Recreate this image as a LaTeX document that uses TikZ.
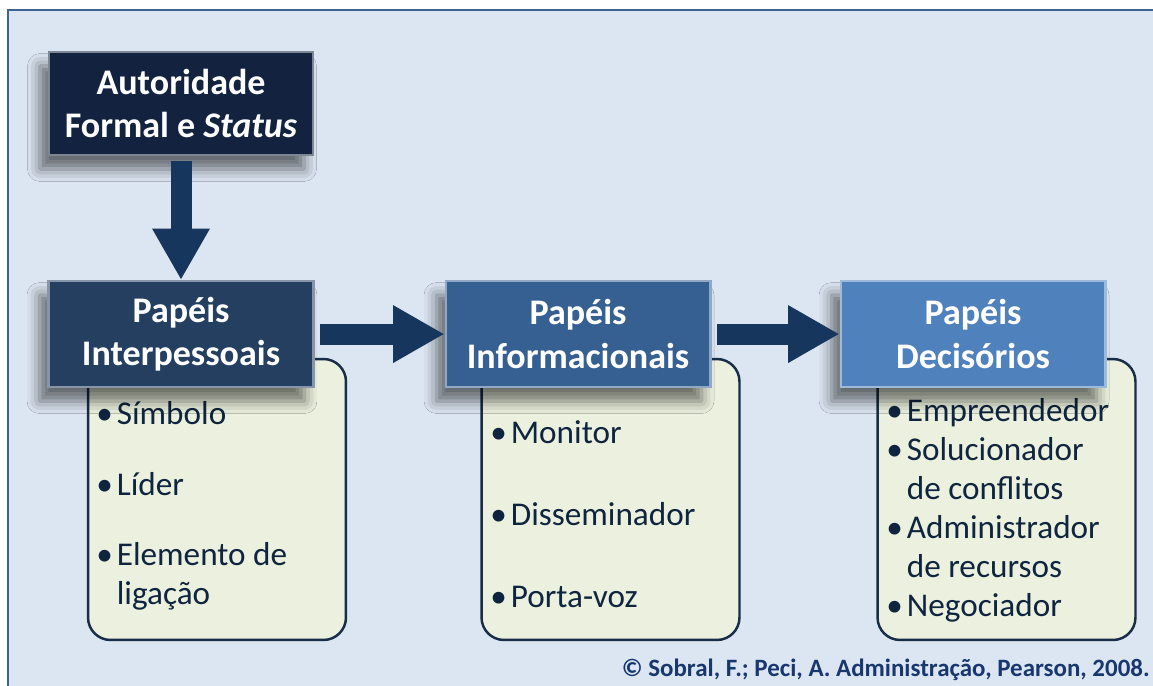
\documentclass[tikz,border=0pt]{standalone}
\usepackage{fontspec}
\setmainfont{Carlito}
\usetikzlibrary{positioning,arrows.meta,shadows.blur}
\definecolor{bgblue}{RGB}{220,230,242}
\definecolor{frameblue}{RGB}{64,100,145}
\definecolor{authfill}{RGB}{19,35,63}
\definecolor{interfill}{RGB}{36,63,96}
\definecolor{infofill}{RGB}{54,96,146}
\definecolor{decfill}{RGB}{79,129,189}
\definecolor{arrowblue}{RGB}{23,54,93}
\definecolor{listfill}{RGB}{235,241,222}
\definecolor{listline}{RGB}{24,45,72}
\definecolor{listtext}{RGB}{15,36,62}
\definecolor{citeblue}{RGB}{23,55,110}
\tikzset{
  role/.style={draw=#1!55!white, line width=1.2pt, fill=#1, text=white,
    font=\fontsize{20.5}{24.8}\selectfont\bfseries, align=center,
    minimum width=5.3cm, minimum height=2.12cm, inner sep=1pt,
    blur shadow={shadow xshift=-0.18cm, shadow yshift=-0.28cm, shadow blur radius=0.25cm, shadow opacity=55}},
  rolelist/.style={draw=listline, line width=1.4pt, fill=listfill, rounded corners=0.45cm,
    minimum width=5.16cm, minimum height=5.62cm},
  listitems/.style={text=listtext, font=\fontsize{18.9}{22.2}\selectfont, align=flush left,
    text width=4.9cm, inner sep=0pt, anchor=base west},
  bigarrow/.style={draw=arrowblue, line width=0.42cm, shorten <=3pt,
    -{Triangle[width=1.08cm, length=1.03cm]}},
  cite/.style={text=citeblue, font=\fontsize{14.2}{17}\selectfont\bfseries, anchor=base east, inner sep=0pt}
}
\newcommand{\itm}{\makebox[0.41cm][l]{\textbullet}}
\newcommand{\cnt}{\hspace*{0.41cm}}

\begin{document}
\begin{tikzpicture}[x=0.02cm, y=-0.02cm]
    \useasboundingbox (0,0) rectangle (1153,686);
    % background frame
    \draw[fill=bgblue, draw=frameblue, line width=1.5pt] (8,10) rectangle (1170,700);

    % lists behind the role boxes
    \node[rolelist] (list1) at (217,499.5) {};
    \node[rolelist] (list2) at (610.5,499.5) {};
    \node[rolelist] (list3) at (1006.5,499.5) {};

    \node[listitems] (items1) at (96,424) {\itm Símbolo\\[18.7pt]
        \itm Líder\\[17.6pt]
        \itm Elemento de\\
        \cnt ligação};
    \node[listitems] (items2) at (490,443) {\itm Monitor\\[24.5pt]
        \itm Disseminador\\[24.5pt]
        \itm Porta-voz};
    \node[listitems] (items3) at (886,421) {\itm Empreendedor\\
        \itm Solucionador\\
        \cnt de conflitos\\
        \itm Administrador\\
        \cnt de recursos\\
        \itm Negociador};

    % role boxes
    \node[role=authfill, minimum height=2.06cm, minimum width=5.28cm] (auth) at (181,103.5) {Autoridade\\Formal e \textit{Status}};
    \node[role=interfill, below=2.48cm of auth] (inter) {Papéis\\Interpessoais};
    \node[role=infofill, right=2.6cm of inter] (info) {Papéis\\Informacionais};
    \node[role=decfill, right=2.56cm of info] (dec) {Papéis\\Decisórios};

    \draw[bigarrow] (auth) -- (inter);
    \draw[bigarrow] (inter) -- (info);
    \draw[bigarrow] (info) -- (dec);

    \node[cite] (source) at (1150,676) {© Sobral, F.; Peci, A. Administração, Pearson, 2008.};
\end{tikzpicture}
\end{document}
